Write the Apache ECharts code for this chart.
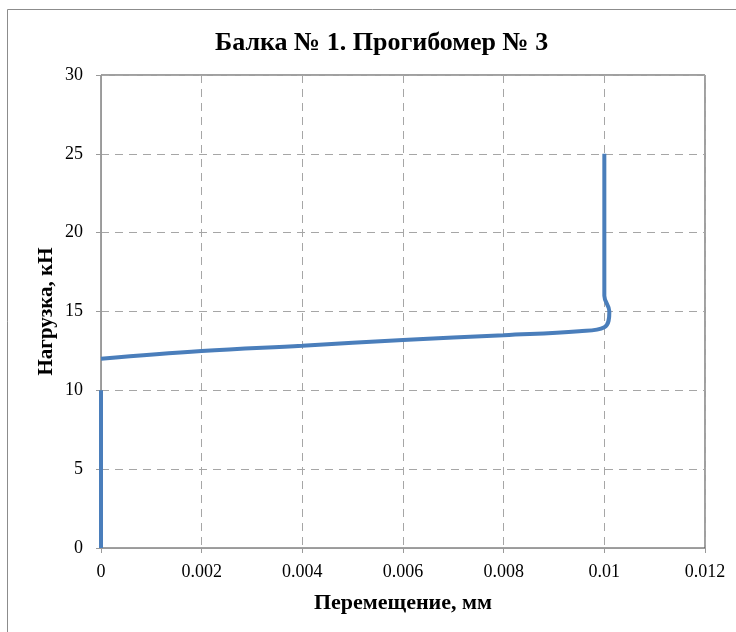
<!DOCTYPE html>
<html>
<head>
<meta charset="utf-8">
<script src="https://cdn.jsdelivr.net/npm/echarts@6/dist/echarts.min.js"></script>
<style>
  html, body { margin: 0; padding: 0; background: #fff; }
  #chart { width: 736px; height: 632px; }
</style>
</head>
<body>
<div id="chart"></div>
<script>
// Прогибомер № 3: перемещение (мм) при нагрузке (кН).
// null splits the trace: the elastic stage (up to 10 kN) and the jump from 12 kN on.
const displacement = [0, 0, 0, 0, 0, 0, null, 0, 0.002, 0.004, 0.006, 0.008, 0.0095, 0.01, 0.0101, 0.01, 0.01, 0.01, 0.01, 0.01];
const load = [0, 2, 4, 6, 8, 10, null, 12, 12.49, 12.83, 13.19, 13.5, 13.75, 14, 15, 16, 18, 20, 22, 25];
const xTicks = [0, 0.002, 0.004, 0.006, 0.008, 0.01, 0.012];
const yTicks = [0, 5, 10, 15, 20, 25, 30];

const serif = '"Liberation Serif", "DejaVu Serif", serif';
const points = displacement.map((x, i) => (x === null ? [null, null] : [x, load[i]]));

const chart = echarts.init(document.getElementById('chart'), null, { renderer: 'canvas' });
chart.setOption({
  animation: false,
  backgroundColor: '#fff',
  title: {
    text: 'Балка № 1. Прогибомер № 3',
    left: 210,
    top: 25,
    textStyle: { fontFamily: serif, fontWeight: 'bold', fontSize: 26, color: '#000' }
  },
  graphic: [{
    type: 'rect',
    shape: { x: 7.5, y: 9.5, width: 760, height: 660 },
    style: { fill: 'none', stroke: '#8c8c8c', lineWidth: 1 },
    silent: true
  }],
  grid: {
    left: 101, right: 31, top: 75, bottom: 84,
    show: true, borderColor: '#404040', borderWidth: 1, backgroundColor: 'transparent'
  },
  xAxis: {
    type: 'value',
    min: xTicks[0], max: xTicks[xTicks.length - 1], interval: 0.002,
    name: 'Перемещение, мм',
    nameLocation: 'middle', nameGap: 44,
    nameTextStyle: { fontFamily: serif, fontWeight: 'bold', fontSize: 22, color: '#000' },
    axisLine: { show: true, lineStyle: { color: '#9a9a9a', width: 1 } },
    axisTick: { show: true, length: 5, lineStyle: { color: '#9a9a9a' } },
    axisLabel: {
      fontFamily: serif, fontSize: 18, color: '#000', margin: 15,
      formatter: v => String(parseFloat(v.toFixed(4)))
    },
    splitLine: { show: true, lineStyle: { color: '#a6a6a6', type: [8, 6], width: 1 } }
  },
  yAxis: {
    type: 'value',
    min: yTicks[0], max: yTicks[yTicks.length - 1], interval: 5,
    name: 'Нагрузка, кН',
    nameLocation: 'middle', nameGap: 44, nameMoveOverlap: false,
    nameTextStyle: { fontFamily: serif, fontWeight: 'bold', fontSize: 21, color: '#000' },
    axisLine: { show: true, lineStyle: { color: '#9a9a9a', width: 1 } },
    axisTick: { show: true, length: 5, lineStyle: { color: '#9a9a9a' } },
    axisLabel: { fontFamily: serif, fontSize: 18, color: '#000', margin: 18 },
    splitLine: { show: true, lineStyle: { color: '#a6a6a6', type: [8, 6], width: 1 } }
  },
  series: [{
    type: 'line',
    data: points,
    smooth: 0.4,
    connectNulls: false,
    clip: true,
    showSymbol: false,
    lineStyle: { color: '#4a7ebb', width: 4 }
  }]
});
</script>
</body>
</html>
